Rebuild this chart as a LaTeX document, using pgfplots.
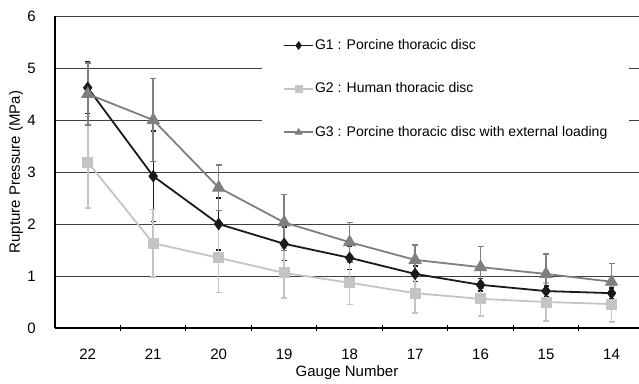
\documentclass[border=0pt]{standalone}
\usepackage{fontspec}
\setmainfont{Liberation Sans}
\usepackage{pgfplots}
\pgfplotsset{compat=1.18}
\definecolor{gA}{HTML}{1A1A1A}
\definecolor{gB}{HTML}{C4C4C4}
\definecolor{gC}{HTML}{7F7F7F}
\begin{document}
\fontsize{15}{17}\selectfont
\begin{tikzpicture}
\path[use as bounding box] (-55pt,-55pt) rectangle (584pt,328pt);
\begin{axis}[
  at={(0,0)}, anchor=south west,
  scale only axis, width=584pt, height=312pt,
  xmin=-0.5, xmax=8.42, ymin=0, ymax=6,
  axis x line=bottom, axis y line=left,
  axis line style={-, line width=1.4pt, black},
  xtick={0,...,8},
  xticklabels={22,21,20,19,18,17,16,15,14},
  major x tick style={draw=none},
  minor xtick={0.5,1.5,...,7.5},
  minor tick length=6pt,
  minor x tick style={black, line width=0.9pt},
  xtick pos=lower,
  ytick={0,1,...,6},
  major y tick style={draw=none},
  ymajorgrids, grid style={line width=0.7pt, black!75},
  tick label style={font=\fontsize{15}{17}\selectfont},
  /pgf/number format/assume math mode=true,
  xticklabel style={yshift=-14pt},
  yticklabel style={xshift=-12pt},
  xlabel={Gauge Number}, ylabel={Rupture Pressure (MPa)},
  label style={font=\fontsize{15}{17}\selectfont},
  xlabel style={at={(axis description cs:0.5,0)}, anchor=center, yshift=-45pt},
  ylabel style={at={(axis description cs:0,0.5)}, anchor=center, yshift=39pt},
  legend style={at={(0.3545,0.958)}, anchor=north west, draw=none, fill=white,
    font=\fontsize{14}{16}\selectfont, row sep=27pt, inner xsep=21pt, inner ysep=8pt,
    nodes={inner xsep=1pt}},
  legend cell align=left,
  legend image code/.code={\draw[mark repeat=2, mark phase=2, #1, mark size=3.6pt] plot coordinates {(0pt,0pt) (14.5pt,0pt) (29pt,0pt)};},
  clip=false,
]
\addplot[gA, line width=1.8pt, mark=diamond*, mark size=5.5pt, mark options={solid, fill=gA, line width=1pt},
  error bars/.cd, y dir=both, y explicit,
  error bar style={line width=1.3pt, gA}, error mark options={rotate=90, mark size=2.5pt, line width=1.3pt, gA}]
  coordinates {(0,4.62) +- (0,0.5) (1,2.92) +- (0,0.87) (2,2.00) +- (0,0.5) (3,1.62) +- (0,0.32)
  (4,1.35) +- (0,0.22) (5,1.04) +- (0,0.15) (6,0.83) +- (0,0.12) (7,0.71) +- (0,0.1) (8,0.67) +- (0,0.1)};
\addlegendentry{G1 : Porcine thoracic disc}
\addplot[gB, line width=1.8pt, mark=square*, mark size=5pt, mark options={solid, fill=gB, line width=1pt},
  error bars/.cd, y dir=both, y explicit,
  error bar style={line width=1.6pt, gB}, error mark options={rotate=90, mark size=3pt, line width=1.6pt, gB}]
  coordinates {(0,3.19) +- (0,0.88) (1,1.63) +- (0,0.65) (2,1.35) +- (0,0.67) (3,1.06) +- (0,0.48)
  (4,0.87) +- (0,0.42) (5,0.67) +- (0,0.38) (6,0.56) +- (0,0.33) (7,0.50) +- (0,0.36) (8,0.46) +- (0,0.35)};
\addlegendentry{G2 : Human thoracic disc}
\addplot[gC, line width=1.8pt, mark=triangle*, mark size=6.8pt, mark options={solid, fill=gC, line width=1pt},
  error bars/.cd, y dir=both, y explicit,
  error bar style={line width=1.6pt, gC}, error mark options={rotate=90, mark size=3pt, line width=1.6pt, gC}]
  coordinates {(0,4.50) +- (0,0.6) (1,4.00) +- (0,0.8) (2,2.70) +- (0,0.44) (3,2.03) +- (0,0.54)
  (4,1.65) +- (0,0.38) (5,1.31) +- (0,0.29) (6,1.17) +- (0,0.4) (7,1.04) +- (0,0.38) (8,0.89) +- (0,0.35)};
\addlegendentry{G3 : Porcine thoracic disc with external loading}
\end{axis}
\end{tikzpicture}
\end{document}
